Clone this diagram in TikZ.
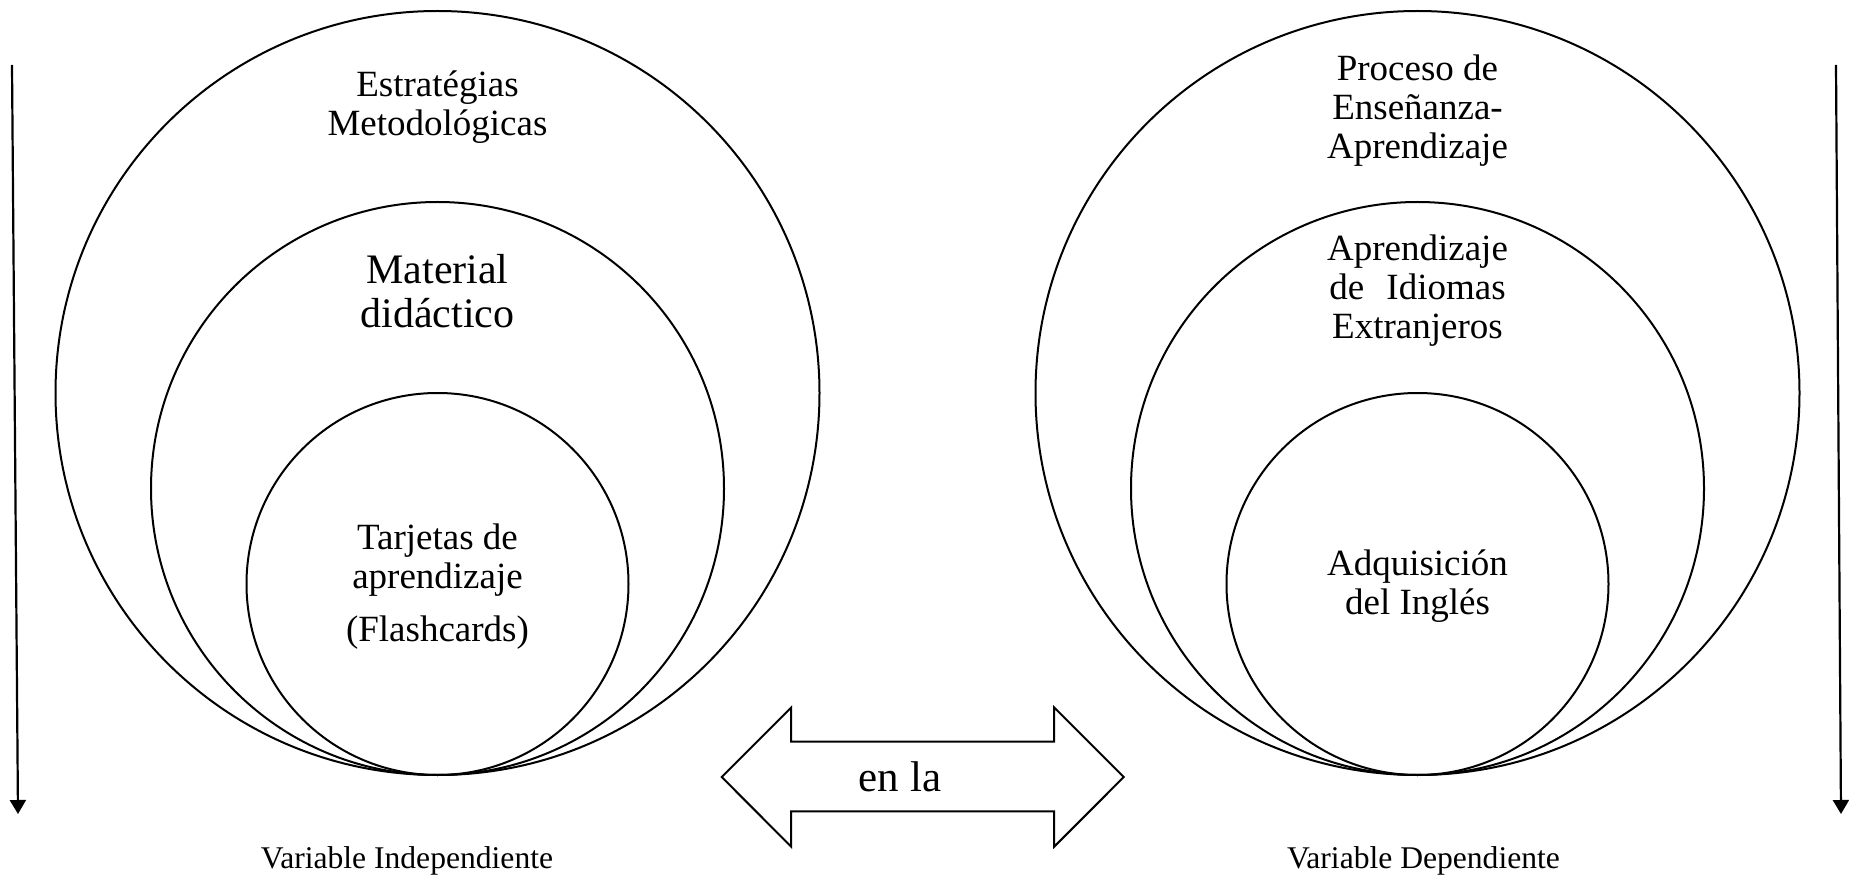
\documentclass[tikz,border=0pt]{standalone}
\usepackage{fontspec}
\setmainfont{Liberation Serif}
\usetikzlibrary{arrows.meta}
\tikzstyle{ring} = [draw, circle, line width=1pt, inner sep=0mm]
\tikzstyle{lbl} = [align=center, inner sep=0mm, font=\fontsize{18.5}{19.5}\selectfont]
\tikzstyle{big} = [align=center, inner sep=0mm, font=\fontsize{21}{22}\selectfont]
\tikzstyle{var} = [inner sep=0mm, font=\fontsize{15.8}{17}\selectfont]
\tikzstyle{flow} = [line width=1.1pt, -{Triangle[width=8pt,length=7pt]}]

\begin{document}
\begin{tikzpicture}[x=0.5pt, y=-0.5pt]
                \useasboundingbox (0,0) rectangle (1849,877);
                \foreach \side/\cx in {L/437.5, R/1417.5} {
                    \foreach \lvl/\cy/\d in {outer/393/382pt, middle/488.5/286.5pt, inner/584/191pt}
                    \node[ring, minimum size=\d] (\side\lvl) at (\cx,\cy) {};
                }

                \node[lbl] (estrat) at (437.5,107) {Estratégias\\Metodológicas};
                \node[big] (material) at (437.5,291) {Material\\didáctico};
                \node[lbl] (tarjetas) at (437.5,587) {Tarjetas de\\aprendizaje\\[7pt](Flashcards)};

                \node[lbl] (proceso) at (1417.5,111) {Proceso de\\Enseñanza-\\Aprendizaje};
                \node[lbl] (idiomas) at (1417.5,291) {Aprendizaje\\de\hspace{0.6em}Idiomas\\Extranjeros};
                \node[lbl] (ingles) at (1417.5,586.5) {Adquisición\\del Inglés};

                \coordinate (Ltop) at (12,65); \coordinate (Lend) at (18,814);
                \coordinate (Rtop) at (1836,65); \coordinate (Rend) at (1841,814);
                \draw[flow] (Ltop) -- (Lend);
                \draw[flow] (Rtop) -- (Rend);

                \draw[line width=1pt, line join=miter] (721.7,777) -- (791.2,707.5) -- (791.2,741.7) -- (1054.2,741.7)
                    -- (1054.2,707.5) -- (1123.8,777) -- (1054.2,846.7) -- (1054.2,811.3)
                    -- (791.2,811.3) -- (791.2,846.7) -- cycle;
                \node[big, font=\fontsize{21.5}{22}\selectfont] (enla) at (900,777) {en la};

                \node[var] (indep) at (407,861) {Variable Independiente};
                \node[var] (dep) at (1423.5,861) {Variable Dependiente};
\end{tikzpicture}
\end{document}
